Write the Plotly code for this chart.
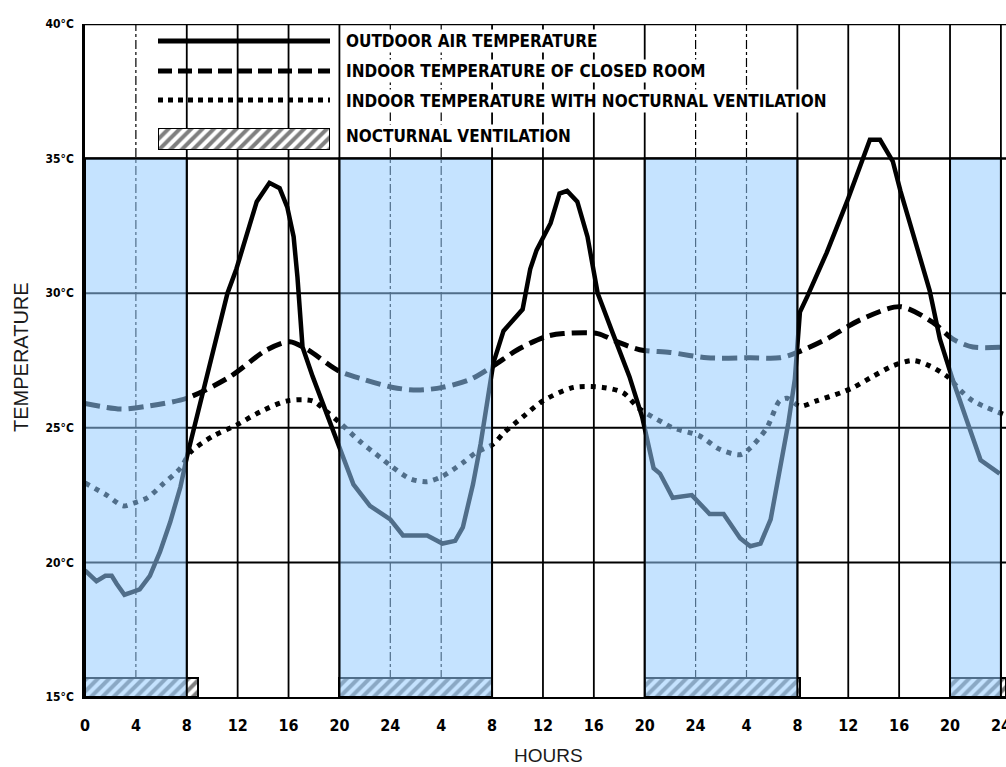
import plotly.graph_objects as go

# ---------------- data ----------------
hour_ticks = list(range(0, 73, 4))
hour_labels = ["0", "4", "8", "12", "16", "20", "24", "4", "8", "12", "16", "20",
               "24", "4", "8", "12", "16", "20", "24"]
temp_ticks = [15, 20, 25, 30, 35, 40]
temp_labels = ["15°C", "20°C", "25°C", "30°C", "35°C", "40°C"]

outdoor_h = [0, 0.9, 1.6, 2.1, 2.5, 3.1, 3.7, 4.3, 5.1, 5.9, 6.7, 7.5, 8.0, 9.6, 11.2,
             11.9, 12.7, 13.5, 14.5, 15.3, 15.9, 16.4, 16.7, 17.1, 17.9, 19.0, 20.0,
             21.1, 22.4, 24.0, 25.0, 26.9, 28.1, 29.1, 29.7, 30.5, 31.1, 31.6, 32.1,
             32.9, 34.4, 35.0, 35.5, 36.6, 37.3, 37.9, 38.7, 39.5, 40.3, 41.5, 42.8,
             43.8, 44.7, 45.2, 46.2, 47.7, 49.1, 50.2, 51.5, 52.3, 53.1, 53.9, 54.6,
             55.3, 55.8, 56.2, 56.8, 58.3, 59.9, 60.9, 61.7, 62.5, 63.5, 64.1, 65.1,
             66.4, 67.2, 68.2, 69.3, 70.4, 71.9]
outdoor_t = [19.7, 19.3, 19.5, 19.5, 19.2, 18.8, 18.9, 19.0, 19.5, 20.4, 21.5, 22.8, 23.9,
             26.9, 30.0, 30.9, 32.1, 33.4, 34.1, 33.9, 33.2, 32.1, 30.6, 28.0, 26.9, 25.5,
             24.2, 22.9, 22.1, 21.6, 21.0, 21.0, 20.7, 20.8, 21.3, 22.9, 24.4, 26.0, 27.4,
             28.6, 29.4, 30.9, 31.6, 32.6, 33.7, 33.8, 33.4, 32.1, 30.0, 28.5, 26.9, 25.4,
             23.5, 23.3, 22.4, 22.5, 21.8, 21.8, 20.9, 20.6, 20.7, 21.6, 23.5, 25.2, 26.8,
             29.3, 29.9, 31.5, 33.4, 34.7, 35.7, 35.7, 34.9, 33.8, 32.2, 30.1, 28.3, 26.8,
             25.3, 23.8, 23.3]

closed_h = [0, 2.8, 4.9, 8.0, 11.4, 14.3, 16.1, 17.5, 20.0, 21.9, 24.2, 26.1, 28.1, 30.3,
            32.1, 34.0, 36.3, 37.6, 40.3, 41.8, 43.6, 46.0, 48.9, 52.3, 54.6, 56.0, 58.3,
            60.9, 64.1, 66.7, 68.2, 69.8, 72.2]
closed_t = [25.9, 25.7, 25.8, 26.1, 26.9, 27.9, 28.2, 27.9, 27.1, 26.8, 26.5, 26.4, 26.5,
            26.8, 27.3, 27.9, 28.4, 28.5, 28.5, 28.2, 27.9, 27.8, 27.6, 27.6, 27.6, 27.8,
            28.3, 29.0, 29.5, 28.9, 28.3, 28.0, 28.0]

ventil_h = [0, 1.7, 3.0, 3.8, 4.9, 6.1, 7.5, 8.3, 10.1, 11.9, 13.8, 15.9, 17.9, 19.0, 20.0,
            21.6, 23.2, 24.0, 25.6, 26.9, 28.1, 29.7, 30.8, 32.1, 32.9, 34.4, 36.0, 38.4,
            40.7, 42.3, 43.6, 45.4, 46.2, 48.3, 49.9, 51.5, 52.3, 53.6, 54.6, 55.2, 56.2,
            57.5, 59.4, 60.4, 61.9, 63.5, 65.1, 66.4, 67.8, 68.8, 69.8, 72.2]
ventil_t = [22.95, 22.5, 22.1, 22.2, 22.4, 22.9, 23.5, 24.1, 24.7, 25.1, 25.6, 26.0, 26.0,
            25.6, 25.2, 24.5, 23.9, 23.6, 23.1, 23.0, 23.2, 23.7, 24.1, 24.4, 24.8, 25.4,
            26.0, 26.5, 26.5, 26.3, 25.7, 25.2, 25.0, 24.7, 24.2, 24.0, 24.25, 25.0, 26.0,
            26.1, 25.8, 26.0, 26.3, 26.5, 26.9, 27.3, 27.5, 27.3, 26.9, 26.4, 26.0, 25.5]

night_start = [0, 20, 44, 68]
night_end = [8, 32, 56, 72]
vent_box_start = [0, 20, 44, 68]
vent_box_end = [8.9, 32, 56.2, 72.4]
vent_box_height = 0.7

legend_labels = ["OUTDOOR AIR TEMPERATURE", "INDOOR TEMPERATURE OF CLOSED ROOM",
                 "INDOOR TEMPERATURE WITH NOCTURNAL VENTILATION", "NOCTURNAL VENTILATION"]

# ---------------- style ----------------
NARROW = "Liberation Sans Narrow, DejaVu Sans Condensed, Arial Narrow, sans-serif"
REG = "Liberation Sans, Arial, sans-serif"
X_MAX = 72.4
Y_MIN, Y_MAX = 15, 40
PLOT_L, PLOT_T, PLOT_B = 85, 24, 70
W, H = 1006, 767
PW = W - PLOT_L
PH = H - PLOT_T - PLOT_B

def px_x(p):
    return (p - PLOT_L) / PW

def px_y(p):
    return (H - PLOT_B - p) / PH

HATCH = dict(shape="/", fgcolor="black", bgcolor="white", size=8, solidity=0.5)

fig = go.Figure()

# hatched ventilation boxes (bars)
fig.add_trace(go.Bar(
    x=[(s + e) / 2 for s, e in zip(vent_box_start, vent_box_end)],
    y=[vent_box_height] * len(vent_box_start),
    width=[e - s for s, e in zip(vent_box_start, vent_box_end)],
    base=Y_MIN,
    marker=dict(color="white", line=dict(color="black", width=2), pattern=HATCH),
    showlegend=False, hoverinfo="skip",
))

fig.add_trace(go.Scatter(x=closed_h, y=closed_t, mode="lines",
                         line=dict(color="black", width=5, dash="15px,7px", shape="spline", smoothing=0.8),
                         showlegend=False, hoverinfo="skip"))
fig.add_trace(go.Scatter(x=ventil_h, y=ventil_t, mode="lines",
                         line=dict(color="black", width=5, dash="5px,6px", shape="spline", smoothing=0.8),
                         showlegend=False, hoverinfo="skip"))
fig.add_trace(go.Scatter(x=outdoor_h, y=outdoor_t, mode="lines",
                         line=dict(color="black", width=4.5),
                         showlegend=False, hoverinfo="skip"))

# legend hatch sample on an invisible helper axis
fig.add_trace(go.Bar(
    x=[0.5], y=[1], width=[1], xaxis="x2", yaxis="y2",
    marker=dict(color="white", line=dict(color="black", width=2), pattern=HATCH),
    showlegend=False, hoverinfo="skip",
))

shapes = []
# horizontal grid
for t in [20, 25, 30]:
    shapes.append(dict(type="line", xref="x", yref="y", x0=0, x1=X_MAX, y0=t, y1=t,
                       line=dict(color="black", width=2), layer="between"))
shapes.append(dict(type="line", xref="x", yref="y", x0=0, x1=X_MAX, y0=35, y1=35,
                   line=dict(color="black", width=2.5), layer="between"))
shapes.append(dict(type="line", xref="x", yref="y", x0=0, x1=X_MAX, y0=40, y1=40,
                   line=dict(color="black", width=2.5), layer="between"))
# vertical grid
for h in hour_ticks[1:]:
    inside = any(s < h < e for s, e in zip(night_start, night_end))
    shapes.append(dict(type="line", xref="x", yref="y", x0=h, x1=h, y0=Y_MIN, y1=Y_MAX,
                       line=dict(color="black", width=1.2 if inside else 1.8,
                                 dash="dashdot" if inside else "solid"),
                       layer="between"))
# white legend backdrop
shapes.append(dict(type="rect", xref="paper", yref="paper",
                   x0=px_x(150), x1=px_x(336), y0=px_y(156), y1=px_y(33),
                   fillcolor="white", line=dict(width=0), layer="between"))
# legend line samples
shapes.append(dict(type="line", xref="paper", yref="paper", x0=px_x(158), x1=px_x(330),
                   y0=px_y(41), y1=px_y(41), line=dict(color="black", width=5)))
shapes.append(dict(type="line", xref="paper", yref="paper", x0=px_x(158), x1=px_x(330),
                   y0=px_y(71), y1=px_y(71), line=dict(color="black", width=5, dash="14px,6px")))
shapes.append(dict(type="line", xref="paper", yref="paper", x0=px_x(158), x1=px_x(330),
                   y0=px_y(100), y1=px_y(100), line=dict(color="black", width=5, dash="5px,5px")))
# night shading (translucent blue on top, tints the lines inside)
for s, e in zip(night_start, night_end):
    shapes.append(dict(type="rect", xref="x", yref="y", x0=s, x1=e, y0=Y_MIN, y1=35,
                       fillcolor="rgba(148,204,255,0.54)",
                       line=dict(color="black", width=2), layer="above"))

annotations = []
row_y = [41, 71, 101, 136]
for lab, ry in zip(legend_labels, row_y):
    annotations.append(dict(text=lab, xref="paper", yref="paper", x=px_x(344), y=px_y(ry),
                            xanchor="left", yanchor="middle", showarrow=False,
                            bgcolor="white", borderpad=1,
                            font=dict(family=NARROW, size=17, color="black", weight="bold")))
annotations.append(dict(text="TEMPERATURE", xref="paper", yref="paper", x=px_x(21), y=px_y(357),
                        textangle=-90, showarrow=False, xanchor="center", yanchor="middle",
                        font=dict(family=REG, size=20, color="#1a1a1a")))
annotations.append(dict(text="HOURS", xref="paper", yref="paper", x=px_x(548), y=px_y(756),
                        showarrow=False, xanchor="center", yanchor="middle",
                        font=dict(family=REG, size=19, color="#1a1a1a")))

fig.update_layout(
    width=W, height=H,
    margin=dict(l=PLOT_L, r=0, t=PLOT_T, b=PLOT_B, pad=0, autoexpand=False),
    paper_bgcolor="white", plot_bgcolor="white",
    barmode="overlay", bargap=0,
    showlegend=False,
    xaxis=dict(range=[0, X_MAX], tickmode="array", tickvals=hour_ticks, ticktext=hour_labels,
               showgrid=False, zeroline=False, showline=True, linecolor="black", linewidth=2,
               ticks="", ticklabelstandoff=13, ticklabeloverflow="allow", automargin=False,
               tickfont=dict(family=NARROW, size=16, color="black", weight="bold")),
    yaxis=dict(range=[Y_MIN, Y_MAX], tickmode="array", tickvals=temp_ticks, ticktext=temp_labels,
               showgrid=False, zeroline=False, showline=True, linecolor="black", linewidth=2.5,
               ticks="", ticklabelstandoff=6, automargin=False,
               tickfont=dict(family=NARROW, size=12, color="black", weight="bold")),
    xaxis2=dict(domain=[px_x(158), px_x(330)], range=[0, 1], anchor="y2", visible=False,
                fixedrange=True),
    yaxis2=dict(domain=[px_y(150), px_y(128)], range=[0, 1], anchor="x2", visible=False,
                fixedrange=True),
    shapes=shapes,
    annotations=annotations,
)

fig.write_html("out.html", config={"displayModeBar": False},
               post_script="document.body.style.margin='0';document.body.style.overflow='hidden';")
